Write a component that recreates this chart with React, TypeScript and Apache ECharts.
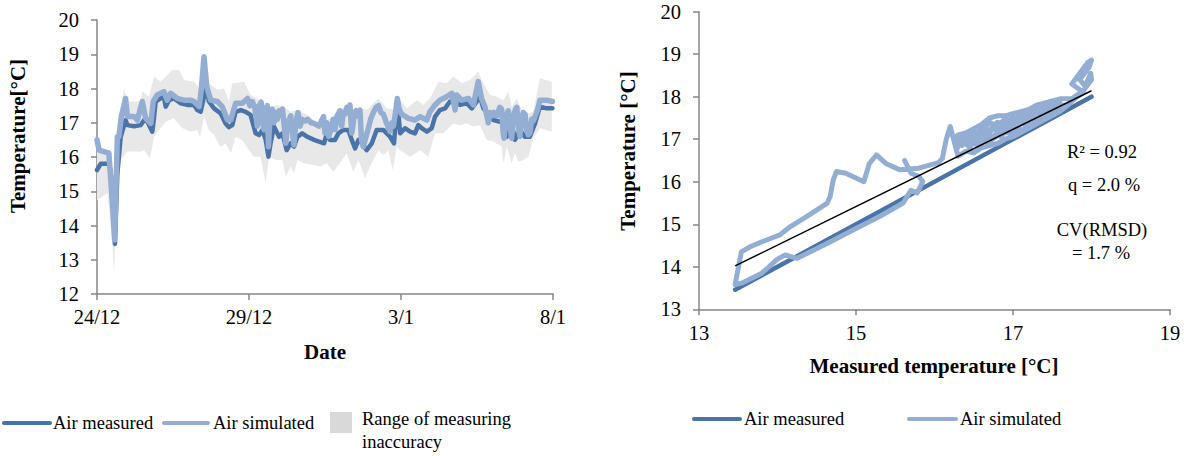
import React, { useEffect, useRef } from "react";
import * as echarts from "echarts";

// ---------- DATA ----------
const dateLabels = ["24/12", "29/12", "3/1", "8/1"]; // ticks at day 0, 5, 10, 15

// [day since 24/12, temperature °C]
const airMeasured: [number, number][] = [
  [0, 15.62], [0.12, 15.8], [0.39, 15.8], [0.45, 15.6], [0.5, 15.04], [0.59, 13.46], [0.67, 15.52],
  [0.78, 16.59], [0.94, 17.08], [1.0, 16.93], [1.22, 16.9], [1.44, 16.93], [1.55, 17.08], [1.66, 17.03],
  [1.82, 16.74], [1.88, 17.18], [1.93, 17.62], [2.09, 17.71], [2.2, 17.76], [2.26, 17.47], [2.37, 17.66],
  [2.53, 17.71], [2.75, 17.57], [2.97, 17.52], [3.19, 17.52], [3.3, 17.37], [3.41, 17.32], [3.52, 17.76],
  [3.57, 18.4], [3.61, 18.0], [3.68, 17.62], [3.85, 17.42], [4.07, 17.27], [4.23, 16.98], [4.34, 16.87],
  [4.45, 16.93], [4.56, 17.32], [4.73, 17.37], [4.89, 17.32], [5.05, 17.23], [5.22, 16.69], [5.33, 16.64],
  [5.44, 16.79], [5.55, 16.5], [5.64, 16.01], [5.71, 16.4], [5.82, 16.89], [5.99, 16.59], [6.1, 16.69],
  [6.24, 16.2], [6.37, 16.4], [6.48, 16.3], [6.59, 16.59], [6.75, 16.69], [6.92, 16.59], [7.14, 16.5],
  [7.47, 16.4], [7.56, 16.69], [7.66, 16.5], [7.83, 16.5], [7.94, 16.69], [8.1, 16.79], [8.27, 16.79],
  [8.38, 16.5], [8.49, 16.25], [8.6, 16.5], [8.71, 16.4], [8.87, 16.2], [9.04, 16.4], [9.2, 16.79],
  [9.42, 16.79], [9.64, 16.59], [9.77, 16.4], [9.88, 17.66], [9.97, 16.69], [10.13, 16.84], [10.3, 16.74],
  [10.46, 16.69], [10.57, 16.93], [10.68, 16.84], [10.85, 16.74], [11.01, 16.84], [11.12, 17.18], [11.28, 17.37],
  [11.45, 17.42], [11.61, 17.62], [11.78, 17.62], [11.94, 17.52], [12.16, 17.57], [12.33, 17.42], [12.49, 17.62],
  [12.58, 17.81], [12.71, 17.42], [12.87, 17.27], [13.04, 17.08], [13.26, 17.03], [13.37, 16.98], [13.48, 16.59],
  [13.64, 16.98], [13.75, 16.5], [13.91, 16.79], [14.08, 16.59], [14.24, 16.59], [14.41, 16.98], [14.57, 17.47],
  [14.79, 17.42], [14.98, 17.42],
];

const airSimulated: [number, number][] = [
  [0, 16.5], [0.07, 16.2], [0.39, 16.11], [0.5, 14.74], [0.58, 13.58], [0.67, 16.59], [0.72, 16.59],
  [0.8, 17.18], [0.94, 17.71], [1.0, 17.18], [1.22, 17.18], [1.33, 17.08], [1.49, 17.62], [1.6, 17.13],
  [1.77, 16.98], [1.85, 17.62], [1.98, 17.81], [2.2, 17.91], [2.31, 17.66], [2.42, 17.86], [2.64, 17.71],
  [2.86, 17.66], [3.08, 17.66], [3.19, 17.62], [3.36, 17.47], [3.43, 17.96], [3.52, 18.93], [3.61, 18.05],
  [3.74, 17.66], [3.96, 17.62], [4.12, 17.47], [4.29, 17.08], [4.4, 17.08], [4.56, 17.57], [4.78, 17.57],
  [4.95, 17.71], [5.03, 17.5], [5.11, 17.62], [5.2, 17.4], [5.27, 16.9], [5.33, 17.5], [5.4, 17.6],
  [5.45, 17.0], [5.49, 16.8], [5.55, 17.4], [5.6, 17.5], [5.64, 16.3], [5.7, 17.3], [5.76, 17.4],
  [5.82, 17.0], [5.88, 17.3], [5.93, 17.1], [5.99, 17.35], [6.04, 17.3], [6.1, 17.4], [6.16, 16.9],
  [6.21, 16.4], [6.28, 17.0], [6.37, 17.2], [6.42, 16.8], [6.48, 16.35], [6.54, 17.0], [6.61, 17.3],
  [6.68, 16.9], [6.75, 17.1], [6.85, 17.05], [6.92, 17.1], [7.04, 17.0], [7.14, 16.98], [7.3, 16.9],
  [7.45, 17.18], [7.5, 16.7], [7.56, 17.0], [7.62, 16.6], [7.7, 16.8], [7.77, 17.1], [7.83, 16.8],
  [7.9, 17.2], [7.99, 17.35], [8.05, 16.9], [8.1, 17.3], [8.16, 17.25], [8.22, 17.45], [8.28, 17.35],
  [8.32, 17.52], [8.38, 16.7], [8.41, 16.85], [8.47, 17.3], [8.52, 17.35], [8.58, 17.2], [8.65, 17.37],
  [8.7, 16.5], [8.76, 16.3], [8.85, 16.6], [8.93, 16.85], [9.0, 17.1], [9.09, 17.3], [9.18, 17.45],
  [9.26, 17.5], [9.34, 17.3], [9.42, 17.25], [9.52, 17.0], [9.64, 16.75], [9.7, 17.0], [9.75, 16.9],
  [9.82, 17.3], [9.88, 17.71], [9.94, 17.4], [10.02, 17.25], [10.24, 17.13], [10.46, 17.08], [10.63, 17.18],
  [10.85, 17.08], [10.95, 17.32], [11.12, 17.52], [11.28, 17.66], [11.5, 17.76], [11.67, 17.86], [11.78, 17.37],
  [11.83, 17.81], [12.0, 17.66], [12.22, 17.71], [12.38, 17.52], [12.54, 18.2], [12.65, 17.71], [12.76, 17.47],
  [12.87, 17.0], [12.93, 17.3], [12.98, 17.2], [13.06, 17.3], [13.15, 17.2], [13.25, 17.45], [13.31, 17.4],
  [13.36, 16.7], [13.39, 16.55], [13.45, 17.2], [13.53, 17.35], [13.58, 16.9], [13.64, 16.55], [13.7, 17.2],
  [13.77, 17.4], [13.81, 17.45], [13.86, 16.9], [13.91, 16.6], [13.97, 17.1], [14.02, 17.3], [14.08, 17.25],
  [14.13, 16.8], [14.19, 16.65], [14.24, 16.7], [14.3, 17.1], [14.35, 17.05], [14.41, 17.18], [14.5, 17.4],
  [14.57, 17.66], [14.79, 17.66], [14.98, 17.62],
];

const inaccuracyUpper: [number, number][] = [
  [0, 16.2], [0.34, 16.2], [0.45, 16.01], [0.56, 14.84], [0.61, 16.2], [0.78, 17.27], [0.89, 18.0],
  [1.0, 17.62], [1.44, 17.62], [1.49, 17.91], [1.71, 17.76], [1.88, 18.35], [2.09, 18.2], [2.26, 18.35],
  [2.48, 18.54], [2.7, 18.54], [2.86, 18.25], [3.19, 18.2], [3.41, 17.96], [3.52, 18.83], [3.68, 18.15],
  [3.96, 17.96], [4.18, 18.0], [4.34, 17.62], [4.45, 18.15], [4.84, 18.2], [5.05, 17.81], [5.27, 17.71],
  [5.49, 17.47], [5.71, 17.42], [5.88, 17.52], [6.15, 17.47], [6.37, 17.32], [6.59, 17.37], [6.92, 17.23],
  [7.34, 16.95], [7.77, 17.18], [7.99, 17.42], [8.21, 17.47], [8.43, 17.37], [8.65, 17.42], [8.87, 17.37],
  [9.09, 17.57], [9.26, 17.71], [9.53, 17.42], [9.77, 17.37], [9.88, 17.76], [10.19, 17.42], [10.52, 17.66],
  [10.74, 17.52], [10.95, 17.71], [11.23, 18.2], [11.5, 18.15], [11.72, 18.35], [12.0, 18.15], [12.27, 18.25],
  [12.54, 18.49], [12.71, 18.15], [12.93, 17.81], [13.15, 17.76], [13.37, 17.66], [13.53, 17.91], [13.64, 17.47],
  [13.81, 17.71], [13.97, 17.37], [14.19, 17.27], [14.35, 17.32], [14.57, 18.3], [14.96, 18.2],
];

const inaccuracyLower: [number, number][] = [
  [0, 14.74], [0.34, 14.94], [0.5, 13.58], [0.56, 12.55], [0.65, 14.74], [0.78, 15.91], [1.0, 16.16],
  [1.44, 16.16], [1.55, 16.2], [1.74, 15.96], [1.88, 16.59], [2.09, 16.84], [2.26, 17.03], [2.53, 17.13],
  [2.81, 16.84], [3.08, 16.74], [3.3, 16.79], [3.39, 16.59], [3.52, 17.18], [3.68, 16.79], [3.85, 16.64],
  [4.05, 16.3], [4.23, 16.4], [4.4, 16.11], [4.56, 16.59], [4.78, 16.5], [5.0, 16.2], [5.16, 16.01],
  [5.38, 16.01], [5.55, 15.23], [5.66, 16.01], [5.88, 15.91], [6.1, 15.91], [6.21, 15.43], [6.37, 15.72],
  [6.48, 15.52], [6.59, 15.91], [6.81, 15.82], [7.14, 15.77], [7.34, 15.72], [7.56, 15.82], [7.77, 15.57],
  [7.99, 15.82], [8.21, 16.11], [8.43, 15.57], [8.6, 15.91], [8.82, 15.38], [8.98, 15.72], [9.26, 16.2],
  [9.42, 16.06], [9.58, 16.2], [9.73, 15.62], [9.86, 16.3], [9.97, 16.2], [10.3, 16.01], [10.63, 16.2],
  [10.9, 16.01], [11.12, 16.69], [11.39, 16.69], [11.72, 16.98], [11.94, 16.93], [12.16, 16.98], [12.38, 16.89],
  [12.6, 16.93], [12.82, 16.5], [13.04, 16.45], [13.31, 16.3], [13.37, 15.82], [13.48, 16.3], [13.64, 15.82],
  [13.75, 16.11], [13.86, 15.86], [14.02, 15.91], [14.19, 16.01], [14.35, 16.54], [14.57, 16.84], [14.96, 16.74],
];

// Right chart: [measured °C, value °C]
const xyMeasured: [number, number][] = [[13.46, 13.46], [18.0, 18.0]];
const xySimulated: [number, number][] = [
  [15.62, 16.5], [15.7, 16.2], [15.8, 16.13], [15.85, 16.0], [15.78, 15.74], [15.7, 15.8], [15.6, 15.5],
  [15.3, 15.18], [15.0, 14.9], [14.6, 14.52], [14.25, 14.2], [14.1, 14.28], [14.0, 14.18], [13.8, 13.85],
  [13.55, 13.62], [13.46, 13.58], [13.54, 14.35], [13.65, 14.47], [13.86, 14.63], [14.03, 14.75],
  [14.16, 14.94], [14.37, 15.18], [14.63, 15.49], [14.67, 15.65], [14.71, 16.04], [14.75, 16.24],
  [14.87, 16.2], [15.1, 16.0], [15.17, 16.43], [15.26, 16.63], [15.38, 16.43], [15.56, 16.28],
  [15.8, 16.32], [16.05, 16.45],
  [16.1, 16.55], [16.15, 17.0], [16.2, 17.3], [16.25, 16.95], [16.3, 16.6], [16.4, 16.72], [16.5, 16.68],
  [16.6, 16.8], [16.7, 16.85], [16.8, 16.9], [16.9, 17.0], [17.0, 17.06], [17.1, 17.16], [17.2, 17.26],
  [17.3, 17.36], [17.4, 17.46], [17.5, 17.56], [17.6, 17.66], [17.7, 17.8], [17.8, 17.98], [17.9, 18.1],
  [17.75, 18.3], [17.85, 18.55], [17.95, 18.8], [18.0, 18.86], [17.97, 18.7], [17.85, 18.4], [17.92, 18.25],
  [17.99, 18.55], [18.0, 18.4], [17.9, 18.15], [17.75, 17.95],
  [17.6, 17.95], [17.5, 17.9], [17.4, 17.85], [17.3, 17.8], [17.2, 17.7], [17.1, 17.65], [17.0, 17.6],
  [16.9, 17.55], [16.8, 17.55], [16.7, 17.5], [16.6, 17.35], [16.5, 17.25], [16.4, 17.15], [16.3, 17.1],
  [16.25, 17.0],
  [16.35, 16.85], [16.45, 17.0], [16.55, 16.85], [16.65, 17.15], [16.75, 17.05], [16.85, 17.3], [16.95, 17.2],
  [17.05, 17.45], [17.15, 17.35], [17.25, 17.55], [17.35, 17.5], [17.45, 17.7], [17.55, 17.65], [17.65, 17.8],
  [17.55, 17.75], [17.45, 17.55], [17.35, 17.65], [17.25, 17.4], [17.15, 17.5], [17.05, 17.25], [16.95, 17.4],
  [16.85, 17.05], [16.75, 17.3], [16.65, 16.95], [16.55, 17.1], [16.45, 16.8], [16.35, 17.0], [16.28, 16.75],
  [16.3, 16.95], [16.4, 17.1], [16.5, 17.05], [16.6, 17.25], [16.7, 17.2], [16.8, 17.4], [16.9, 17.35],
  [17.0, 17.5], [17.1, 17.45], [17.2, 17.6], [17.3, 17.6], [17.4, 17.75], [17.5, 17.75], [17.6, 17.85],
  [17.5, 17.85], [17.4, 17.7], [17.3, 17.72], [17.2, 17.55], [17.1, 17.58], [17.0, 17.4], [16.9, 17.48],
  [16.8, 17.3], [16.7, 17.4], [16.6, 17.15], [16.5, 17.15], [16.4, 16.95], [16.3, 17.0],
  [16.4, 16.9], [16.55, 16.95], [16.7, 16.95], [16.85, 17.15], [17.0, 17.15], [17.15, 17.25], [17.3, 17.45],
  [17.42, 17.62],
];
const trendLine: [number, number][] = [[13.46, 14.02], [18.0, 18.14]];
const statTexts = ["R² = 0.92", "q = 2.0 %", "CV(RMSD)", "= 1.7 %"];

// ---------- STYLE ----------
const FONT = "'Liberation Serif', 'Times New Roman', serif";
const FS = 18.5;
const TICK_FS = 20.5;
const TITLE_FS = 21;
const DARK = "#4a74a8";
const LIGHT = "#93add3";
const BAND = "#e8e8e8";
const AXIS = "#868686";

function axisCommon() {
  return {
    axisLine: { show: true, onZero: false, lineStyle: { color: AXIS, width: 1.5 } },
    axisTick: { show: true, length: 6, lineStyle: { color: AXIS, width: 1.5 } },
    splitLine: { show: false },
    axisLabel: { color: "#000", fontFamily: FONT, fontSize: TICK_FS, showMinLabel: true, showMaxLabel: true },
  };
}

function txt(text: string, x: number, y: number, opts: any = {}) {
  return {
    type: "text",
    x,
    y,
    rotation: opts.rotation || 0,
    silent: true,
    style: {
      text,
      fill: "#000",
      fontFamily: FONT,
      fontSize: opts.size || FS,
      fontWeight: opts.bold ? "bold" : "normal",
      align: opts.align || "left",
      verticalAlign: "middle",
    },
  };
}

function legLine(x1: number, x2: number, y: number, color: string) {
  return {
    type: "line",
    silent: true,
    shape: { x1, y1: y, x2, y2: y },
    style: { stroke: color, lineWidth: 4, lineCap: "round" },
  };
}

export default function App() {
  const ref = useRef<HTMLDivElement>(null);
  useEffect(() => {
    if (!ref.current) return;
    const chart = echarts.init(ref.current, null, { renderer: "svg" });
    const c0 = axisCommon();
    const c1 = axisCommon();
    const c2 = axisCommon();
    const c3 = axisCommon();
    chart.setOption({
      animation: false,
      backgroundColor: "#fff",
      grid: [
        { left: 97, top: 20, width: 456, height: 274 },
        { left: 699, top: 11.7, width: 471, height: 297.6 },
      ],
      xAxis: [
        {
          gridIndex: 0, type: "value", min: 0, max: 15, interval: 5, ...c0,
          axisLabel: { ...c0.axisLabel, margin: 12, formatter: (v: number) => dateLabels[Math.round(v / 5)] ?? "" },
        },
        {
          gridIndex: 1, type: "value", min: 13, max: 19, interval: 2, ...c1,
          axisLabel: { ...c1.axisLabel, margin: 13 },
        },
      ],
      yAxis: [
        { gridIndex: 0, type: "value", min: 12, max: 20, interval: 1, ...c2, axisLabel: { ...c2.axisLabel, margin: 18 } },
        { gridIndex: 1, type: "value", min: 13, max: 20, interval: 1, ...c3, axisLabel: { ...c3.axisLabel, margin: 18 } },
      ],
      series: [
        {
          name: "Range of measuring inaccuracy",
          type: "custom",
          coordinateSystem: "cartesian2d",
          xAxisIndex: 0,
          yAxisIndex: 0,
          silent: true,
          z: 1,
          data: [[7.5, 16]],
          renderItem: (_params: any, api: any) => {
            const pts = inaccuracyUpper
              .map((p) => api.coord(p))
              .concat(inaccuracyLower.slice().reverse().map((p) => api.coord(p)));
            return { type: "polygon", shape: { points: pts }, style: { fill: BAND } };
          },
        },
        {
          name: "Air measured", type: "line", xAxisIndex: 0, yAxisIndex: 0, data: airMeasured,
          showSymbol: false, z: 2, lineStyle: { color: DARK, width: 4.5, cap: "round", join: "round" },
        },
        {
          name: "Air simulated", type: "line", xAxisIndex: 0, yAxisIndex: 0, data: airSimulated,
          showSymbol: false, z: 3, lineStyle: { color: LIGHT, width: 5.5, cap: "round", join: "round" },
        },
        {
          name: "Air measured", type: "line", xAxisIndex: 1, yAxisIndex: 1, data: xyMeasured,
          showSymbol: false, z: 2, lineStyle: { color: DARK, width: 4.5, cap: "round" },
        },
        {
          name: "Air simulated", type: "line", xAxisIndex: 1, yAxisIndex: 1, data: xySimulated,
          showSymbol: false, smooth: false, z: 3, lineStyle: { color: LIGHT, width: 5, cap: "round", join: "round" },
        },
        {
          name: "Trend", type: "line", xAxisIndex: 1, yAxisIndex: 1, data: trendLine,
          showSymbol: false, z: 4, lineStyle: { color: "#000", width: 1.5 },
        },
      ],
      graphic: [
        txt("Temperature[°C]", 18, 136, { bold: true, align: "center", rotation: Math.PI / 2, size: TITLE_FS }),
        txt("Date", 325, 352, { bold: true, align: "center", size: TITLE_FS }),
        txt("Temperature [°C]", 628, 151, { bold: true, align: "center", rotation: Math.PI / 2, size: TITLE_FS }),
        txt("Measured temperature [°C]", 934, 366, { bold: true, align: "center", size: TITLE_FS }),
        txt(statTexts[0], 1102, 152, { align: "center" }),
        txt(statTexts[1], 1104, 185, { align: "center" }),
        txt(statTexts[2], 1102, 230, { align: "center" }),
        txt(statTexts[3], 1101, 253, { align: "center" }),
        // left legend
        legLine(4, 50, 423, DARK),
        txt("Air measured", 53, 423),
        legLine(164, 208, 423, LIGHT),
        txt("Air simulated", 213, 423),
        { type: "rect", silent: true, shape: { x: 330, y: 412, width: 22, height: 21 }, style: { fill: "#d9d9d9" } },
        txt("Range of measuring", 362, 419),
        txt("inaccuracy", 362, 442),
        // right legend
        legLine(694, 740, 419, DARK),
        txt("Air measured", 744, 419),
        legLine(909, 956, 419, LIGHT),
        txt("Air simulated", 960, 419),
      ],
    });
    return () => chart.dispose();
  }, []);
  return (
    <div
      ref={ref}
      style={{ position: "absolute", left: 0, top: 0, width: 1184, height: 456, background: "#fff" }}
    />
  );
}
